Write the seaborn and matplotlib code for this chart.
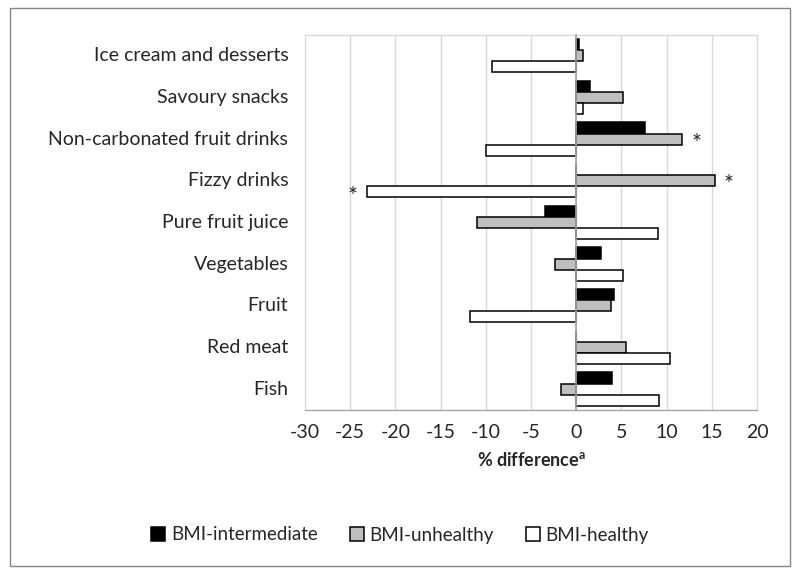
import numpy as np
import pandas as pd
import matplotlib
matplotlib.use('Agg')
import matplotlib.pyplot as plt
import matplotlib.transforms as mtransforms
from matplotlib.patches import Rectangle
import seaborn as sns

# datos
categorias = ['Ice cream and desserts', 'Savoury snacks', 'Non-carbonated fruit drinks',
              'Fizzy drinks', 'Pure fruit juice', 'Vegetables', 'Fruit', 'Red meat', 'Fish']
grupos = ['BMI-intermediate', 'BMI-unhealthy', 'BMI-healthy']
intermedio = [0.3, 1.5, 7.6, 0.0, -3.4, 2.7, 4.2, 0.0, 4.0]
no_saludable = [0.8, 5.2, 11.7, 15.3, -11.0, -2.4, 3.9, 5.5, -1.7]
saludable = [-9.3, 0.7, -10.0, -23.1, 9.1, 5.2, -11.8, 10.4, 9.2]
# barras con asterisco (categoria, grupo)
significativo = [('Non-carbonated fruit drinks', 'BMI-unhealthy'),
                 ('Fizzy drinks', 'BMI-unhealthy'),
                 ('Fizzy drinks', 'BMI-healthy')]
x_ticks = [-30, -25, -20, -15, -10, -5, 0, 5, 10, 15, 20]
colores = ['#000000', '#BFBFBF', '#FFFFFF']

df = pd.DataFrame({
    'categoria': categorias * 3,
    'grupo': [g for g in grupos for _ in categorias],
    'valor': intermedio + no_saludable + saludable,
})

sns.set_style('white')
plt.rcParams['font.family'] = ['Lato', 'DejaVu Sans']
plt.rcParams['mathtext.fontset'] = 'custom'
plt.rcParams['mathtext.bf'] = 'Lato:bold'

fig = plt.figure(figsize=(8, 5.74), dpi=100)
ax = fig.add_axes([305 / 800, 1 - 410 / 574, 452 / 800, 375 / 574])

sns.barplot(data=df, x='valor', y='categoria', hue='grupo', order=categorias,
            hue_order=grupos, palette=colores, orient='h', edgecolor='black',
            linewidth=1.1, width=0.8, ax=ax)

ax.set_xlim(-30, 20)
ax.set_ylim(8.5, -0.5)
ax.set_xticks(x_ticks)
ax.set_xticklabels([str(t) for t in x_ticks], fontsize=14)
ax.tick_params(axis='x', length=5, color='#A6A6A6', width=1, pad=5)
ax.grid(axis='x', color='#D9D9D9', linewidth=1)
ax.set_axisbelow(True)

for s in ['top', 'right', 'bottom']:
    ax.spines[s].set_linewidth(1)
ax.spines['bottom'].set_color('#A6A6A6')
ax.spines['top'].set_color('#D9D9D9')
ax.spines['right'].set_color('#D9D9D9')

# eje vertical en cero con marcas entre categorias
ax.spines['left'].set_position(('data', 0))
ax.spines['left'].set_color('#A6A6A6')
ax.spines['left'].set_linewidth(1.2)
ax.spines['left'].set_zorder(5)
ax.set_yticks(range(len(categorias)))
ax.set_yticklabels([])
ax.tick_params(axis='y', which='major', length=0)
ax.set_yticks(np.arange(-0.5, len(categorias) + 0.5, 1), minor=True)
ax.tick_params(axis='y', which='minor', length=5, color='#A6A6A6', width=1, direction='out')
ax.set_ylabel('')

# etiquetas de categorias a la izquierda
trans = mtransforms.blended_transform_factory(ax.transAxes, ax.transData)
for i, c in enumerate(categorias):
    ax.text(-0.037, i, c, transform=trans, ha='right', va='center', fontsize=14)

ax.set_xlabel(r'% difference$^{\mathbf{a}}$', fontsize=13, fontweight='bold', labelpad=7)

# asteriscos
for cat, g in significativo:
    barra = ax.containers[grupos.index(g)].patches[categorias.index(cat)]
    fin = barra.get_x() + barra.get_width()
    signo = 1 if fin >= 0 else -1
    ax.text(fin + signo * 1.6, barra.get_y() + barra.get_height() / 2 + 0.1, '*',
            ha='center', va='center', fontsize=17)

handles, labels = ax.get_legend_handles_labels()
ax.get_legend().remove()
fig.legend(handles, labels, loc='center', bbox_to_anchor=(0.5, 1 - 535 / 574), ncol=3,
           frameon=False, fontsize=13.5, handlelength=0.75, handleheight=0.75,
           handletextpad=0.3, columnspacing=1.7)

# borde del grafico
fig.patches.append(Rectangle((10 / 800, 8 / 574), 780 / 800, 558 / 574, transform=fig.transFigure,
                             fill=False, edgecolor='#868686', linewidth=1))

fig.savefig('out.png', dpi=100)
